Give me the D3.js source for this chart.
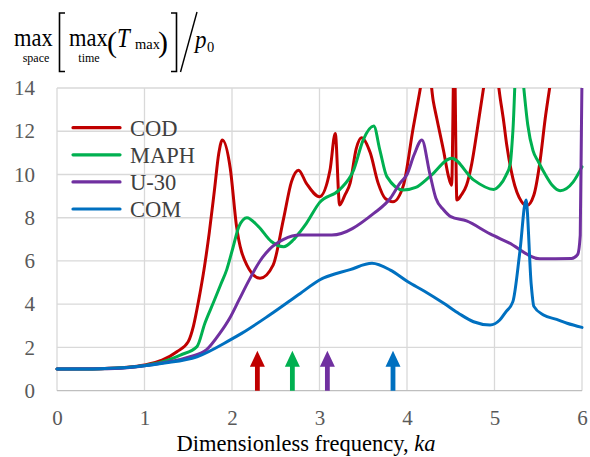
<!DOCTYPE html>
<html>
<head>
<meta charset="utf-8">
<script src="https://cdn.jsdelivr.net/npm/d3@7"></script>
<style>
  html, body { margin: 0; padding: 0; background: #fff; }
  svg { display: block; }
  text { font-family: "Liberation Serif", "Times New Roman", serif; }
</style>
</head>
<body>
<svg id="chart" width="590" height="457"></svg>
<script>
// ---------------- DATA ----------------
const seriesNames = ["COD", "MAPH", "U-30", "COM"];
const seriesColors = ["#C00000", "#00B050", "#7030A0", "#0070C0"];

const codData = [[0,1.0],[0.5,1.02],[0.8,1.08],[1.0,1.19],[1.2,1.41],[1.37,1.8],[1.5,2.27],[1.56,3.0],[1.62,4.2],[1.68,5.6],
  [1.74,7.3],[1.8,9.3],[1.85,11.0],[1.89,11.6],[1.98,10.29],[2.05,7.66],[2.17,5.81],[2.32,5.2],[2.47,5.81],[2.59,7.97],[2.68,9.67],
  [2.76,10.2],[2.85,9.59],[3.0,8.97],[3.12,10.2],[3.18,11.9],[3.23,8.59],[3.29,9.05],[3.35,9.6],[3.42,11.2],[3.48,11.7],
  [3.58,11.0],[3.67,9.6],[3.75,8.9],[3.84,8.74],[3.96,9.51],[4.07,12.14],[4.14,13.7],[4.23,15.5],[4.30,13.4],[4.34,12.6],
  [4.42,11.05],[4.47,9.98],[4.51,9.5],[4.54,16],[4.57,8.82],[4.62,9.05],[4.68,9.5],[4.74,10.5],[4.8,12.0],[4.86,13.6],
  [4.965,16],[5.07,13.4],[5.1,12.6],[5.14,11.36],[5.21,9.82],[5.31,8.74],[5.37,8.56],[5.45,9.05],[5.52,10.6],[5.58,12.6],
  [5.63,14],[5.7,16],[5.85,18],[6,19]];

const maphData = [[0,1.0],[0.5,1.02],[0.8,1.07],[1.0,1.17],[1.2,1.33],[1.41,1.65],[1.6,2.04],[1.69,3.12],[1.79,4.1],[1.87,4.9],
  [1.94,5.6],[2.01,6.6],[2.08,7.6],[2.17,8.0],[2.3,7.6],[2.45,6.9],[2.59,6.66],[2.7,6.97],[2.78,7.36],[2.85,7.74],
  [3.0,8.7],[3.23,9.3],[3.39,10.2],[3.5,11.6],[3.62,12.24],[3.69,11.13],[3.77,9.9],[3.96,9.28],[4.1,9.4],[4.26,9.9],
  [4.51,10.75],[4.76,9.75],[4.99,9.31],[5.06,9.5],[5.13,9.95],[5.18,10.5],[5.21,12],[5.27,17],[5.33,14.2],[5.38,12.3],
  [5.44,11.1],[5.5,10.6],[5.58,10.0],[5.66,9.5],[5.75,9.25],[5.9,9.66],[6.0,10.35]];

const u30Data = [[0,1.0],[0.5,1.01],[0.8,1.06],[1.0,1.15],[1.2,1.28],[1.52,1.57],[1.71,1.9],[1.86,2.65],[1.98,3.4],[2.08,4.2],
  [2.2,5.15],[2.32,6.0],[2.43,6.55],[2.59,7.0],[2.78,7.2],[3.14,7.2],[3.62,8.2],[3.81,8.9],[3.92,9.6],[4.0,10.0],
  [4.08,10.9],[4.17,11.6],[4.26,10.05],[4.33,8.9],[4.42,8.36],[4.5,8.05],[4.68,7.85],[4.95,7.25],[5.16,6.85],[5.52,6.1],
  [5.88,6.12],[5.95,6.3],[5.98,7.2],[6.0,14.5]];

const comData = [[0,1.0],[0.5,1.02],[0.83,1.08],[1.0,1.15],[1.21,1.27],[1.6,1.57],[1.98,2.35],[2.11,2.65],[2.43,3.5],[2.78,4.5],
  [3.0,5.12],[3.35,5.6],[3.6,5.89],[3.81,5.58],[4.01,5.04],[4.2,4.6],[4.42,4.04],[4.6,3.55],[4.76,3.19],[4.95,3.04],
  [5.06,3.27],[5.13,3.65],[5.21,4.12],[5.29,6.43],[5.36,8.82],[5.42,4.89],[5.45,3.9],[5.56,3.5],[5.71,3.3],[5.83,3.12],
  [6.0,2.93]];

const arrowPositions = [2.29, 2.69, 3.09, 3.84];
const arrowTipValue = 1.85;
const xTicks = [0, 1, 2, 3, 4, 5, 6];
const yTicks = [0, 2, 4, 6, 8, 10, 12, 14];
const xTitle = "Dimensionless frequency, ";
const xTitleItalic = "ka";

// ---------------- CHART ----------------
const allData = [codData, maphData, u30Data, comData];
const svg = d3.select("#chart");
svg.append("rect").attr("width", 590).attr("height", 457).attr("fill", "#fff");

const L = 57, R = 582, T = 88, B = 390.7;
const x = d3.scaleLinear().domain([0, 6]).range([L, R]);
const y = d3.scaleLinear().domain([0, 14]).range([B, T]);

// grid
const grid = svg.append("g");
grid.selectAll(".hg").data(yTicks.filter(d => d > 0)).join("line")
  .attr("x1", L).attr("x2", R).attr("y1", d => y(d)).attr("y2", d => y(d))
  .attr("stroke", "#d9d9d9").attr("stroke-width", 1.3);
grid.selectAll(".vg").data(xTicks).join("line")
  .attr("y1", T).attr("y2", B).attr("x1", d => x(d)).attr("x2", d => x(d))
  .attr("stroke", "#d9d9d9").attr("stroke-width", 1.3);
grid.append("line").attr("x1", L).attr("x2", R).attr("y1", B).attr("y2", B)
  .attr("stroke", "#bfbfbf").attr("stroke-width", 1.3);

// axes labels via d3 axes
const xAxis = svg.append("g").attr("transform", `translate(0,${B})`)
  .call(d3.axisBottom(x).tickValues(xTicks).tickSize(0).tickPadding(19).tickFormat(d3.format("d")));
xAxis.select(".domain").remove();
xAxis.selectAll("text").attr("font-size", 21).attr("fill", "#595959")
  .attr("font-family", "Liberation Serif, serif");

const yAxis = svg.append("g").attr("transform", `translate(${L},0)`)
  .call(d3.axisLeft(y).tickValues(yTicks).tickSize(0).tickPadding(22).tickFormat(d3.format("d")));
yAxis.select(".domain").remove();
yAxis.selectAll("text").attr("font-size", 21).attr("fill", "#595959")
  .attr("font-family", "Liberation Serif, serif");

// clip
svg.append("clipPath").attr("id", "plotclip").append("rect")
  .attr("x", L - 2).attr("y", T).attr("width", R - L + 4).attr("height", B - T + 2);

const line = d3.line().x(d => x(d[0])).y(d => y(d[1])).curve(d3.curveMonotoneX);
const lines = svg.append("g").attr("clip-path", "url(#plotclip)");
allData.forEach((data, i) => {
  lines.append("path").datum(data).attr("d", line)
    .attr("fill", "none").attr("stroke", seriesColors[i])
    .attr("stroke-width", 3).attr("stroke-linejoin", "round").attr("stroke-linecap", "round");
});

// arrows
const arrows = svg.append("g");
arrowPositions.forEach((p, i) => {
  const cx = x(p), yb = y(0), yt = y(arrowTipValue);
  const hh = 16, hw = 7.5, sw = 2.4;
  const pts = [[cx - sw, yb], [cx - sw, yt + hh], [cx - hw, yt + hh], [cx, yt], [cx + hw, yt + hh], [cx + sw, yt + hh], [cx + sw, yb]];
  arrows.append("path").attr("d", d3.line()(pts) + "Z").attr("fill", seriesColors[i]);
});

// legend
const legend = svg.append("g");
seriesNames.forEach((n, i) => {
  const ly = 127.7 + i * 27.1;
  legend.append("line").attr("x1", 73).attr("x2", 120).attr("y1", ly).attr("y2", ly)
    .attr("stroke", seriesColors[i]).attr("stroke-width", 3.2).attr("stroke-linecap", "round");
  legend.append("text").attr("x", 130).attr("y", ly + 7.8).attr("font-size", 22.5)
    .attr("fill", "#404040").text(n);
});

// x title
const xt = svg.append("text").attr("x", 306).attr("y", 451).attr("text-anchor", "middle")
  .attr("font-size", 22.5).attr("fill", "#000");
xt.append("tspan").text(xTitle);
xt.append("tspan").attr("font-style", "italic").text(xTitleItalic);

// y title (formula)
const tg = svg.append("g").attr("fill", "#000");
const txt = (s, px, py, fs, opts = {}) => {
  const t = tg.append("text").attr("x", px).attr("y", py).attr("font-size", fs).text(s);
  if (opts.italic) t.attr("font-style", "italic");
  if (opts.anchor) t.attr("text-anchor", opts.anchor);
  if (opts.sy) t.attr("transform", `translate(0,${py}) scale(1,${opts.sy}) translate(0,${-py})`);
  return t;
};
txt("max", 14, 46, 22.5, { sy: 1.15 });
txt("space", 36, 62, 12, { anchor: "middle" });
txt("max", 69, 46, 22.5, { sy: 1.15 });
txt("time", 89, 62, 12, { anchor: "middle" });
txt("(", 107, 52, 30);
txt("T", 117, 47, 23, { italic: true, sy: 1.15 });
txt("max", 135, 49, 14.5);
txt(")", 158, 52, 30);
txt("p", 195, 48, 23, { italic: true, sy: 1.1 });
txt("0", 207, 52, 14.5);
tg.append("path").attr("d", "M65,13 L59.5,13 L59.5,71.5 L65,71.5").attr("fill", "none")
  .attr("stroke", "#000").attr("stroke-width", 1.6);
tg.append("path").attr("d", "M171,13 L176.5,13 L176.5,71.5 L171,71.5").attr("fill", "none")
  .attr("stroke", "#000").attr("stroke-width", 1.6);
tg.append("line").attr("x1", 197).attr("y1", 12).attr("x2", 180.5).attr("y2", 72)
  .attr("stroke", "#000").attr("stroke-width", 1.4);
</script>
</body>
</html>
